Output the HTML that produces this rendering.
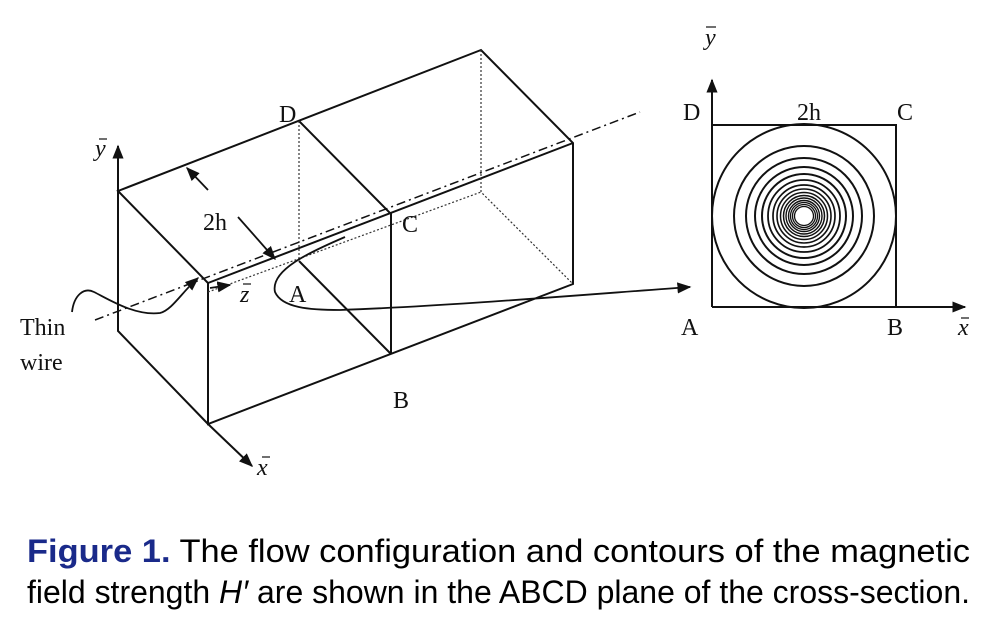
<!DOCTYPE html>
<html><head><meta charset="utf-8"><style>
html,body{margin:0;padding:0;background:#fff;width:1000px;height:630px;overflow:hidden}
svg{display:block}
.s{font-family:"Liberation Serif",serif;font-size:24px;fill:#111}
.c{font-family:"Liberation Sans",sans-serif;font-size:32px;fill:#000}
</style></head><body>
<svg width="1000" height="630" viewBox="0 0 1000 630" xmlns="http://www.w3.org/2000/svg">
<defs>
<marker id="ab" viewBox="0 0 10 10" refX="9" refY="5" markerWidth="14" markerHeight="14" markerUnits="userSpaceOnUse" orient="auto"><path d="M0,1L10,5L0,9z" fill="#111"/></marker>
</defs>
<g stroke="#111" stroke-width="2" fill="none">
<path d="M118,191 L481,50 L573,143 L573,284 L208,424 L208,283 L118,191 Z"/>
<path d="M208,283 L573,143"/>
<path d="M118,191 L118,331 L208,424"/>
<path d="M299,121 L391,214 L391,354"/>
<path d="M299,261 L391,354"/>
<path d="M118,331 L118,146" marker-end="url(#ab)"/>
<path d="M208,424 L252,466" marker-end="url(#ab)"/>
</g>
<g stroke="#333" stroke-width="1.2" fill="none" stroke-dasharray="2,2">
<path d="M481,50 L481,192 L573,284"/>
<path d="M208,292 L481,192"/>
<path d="M299,121 L299,261"/>
</g>
<path d="M95,320 L640,112" stroke="#111" stroke-width="1.5" stroke-dasharray="9,4,2,4" fill="none"/>
<g stroke="#111" stroke-width="1.8" fill="none">
<path d="M208,190 L187,168" marker-end="url(#ab)"/>
<path d="M238,217 L275,259" marker-end="url(#ab)"/>
<path d="M72,312 C74,295 84,287 94,292 C110,300 135,316 160,313 C172,310 182,292 198,278" marker-end="url(#ab)"/>
<path d="M210,288 L230,285" marker-end="url(#ab)"/>
<path d="M345,237 C310,252 270,270 275,292 C282,308 310,310 340,310 C450,306 580,295 690,287" marker-end="url(#ab)"/>
</g>
<text class="s" x="279" y="122">D</text>
<text class="s" x="203" y="230">2h</text>
<text class="s" x="402" y="232">C</text>
<text class="s" x="289" y="302">A</text>
<text class="s" x="393" y="408">B</text>
<text class="s" x="240" y="302" font-style="italic">z</text>
<text class="s" x="95" y="156" font-style="italic">y</text>
<text class="s" x="257" y="475" font-style="italic">x</text>
<text class="s" x="20" y="335">Thin</text>
<text class="s" x="20" y="370">wire</text>
<g stroke="#111" stroke-width="2" fill="none">
<path d="M712,307 L712,80" marker-end="url(#ab)"/>
<path d="M712,307 L965,307" marker-end="url(#ab)"/>
<path d="M712,125 L896,125 L896,307"/>
<circle cx="804" cy="216" r="92"/>
<circle cx="804" cy="216" r="70"/>
<circle cx="804" cy="216" r="58"/>
<circle cx="804" cy="216" r="49"/>
<circle cx="804" cy="216" r="42"/>
<circle cx="804" cy="216" r="36" stroke-width="1.8"/>
<circle cx="804" cy="216" r="31" stroke-width="1.7"/>
<circle cx="804" cy="216" r="27" stroke-width="1.6"/>
<circle cx="804" cy="216" r="23.5" stroke-width="1.5"/>
<circle cx="804" cy="216" r="20.5" stroke-width="1.5"/>
<circle cx="804" cy="216" r="18" stroke-width="1.4"/>
<circle cx="804" cy="216" r="15.5" stroke-width="1.4"/>
<circle cx="804" cy="216" r="13.5" stroke-width="1.3"/>
<circle cx="804" cy="216" r="11.5" stroke-width="1.3"/>
<circle cx="804" cy="216" r="9.5" stroke-width="1.3"/>
</g>
<text class="s" x="683" y="120">D</text>
<text class="s" x="797" y="120">2h</text>
<text class="s" x="897" y="120">C</text>
<text class="s" x="681" y="335">A</text>
<text class="s" x="887" y="335">B</text>
<text class="s" x="958" y="335" font-style="italic">x</text>
<text class="s" x="705" y="45" font-style="italic">y</text>
<g stroke="#111" stroke-width="1.2">
<path d="M99,139 L107,139"/><path d="M262,457 L270,457"/><path d="M706,27 L716,27"/><path d="M961,318 L969,318"/><path d="M243,284 L251,284"/>
</g>
<text class="c" x="27" y="562" textLength="943" lengthAdjust="spacingAndGlyphs"><tspan fill="#1a2a8a" font-weight="bold">Figure 1.</tspan> The flow configuration and contours of the magnetic</text>
<text class="c" x="27" y="603" textLength="943" lengthAdjust="spacingAndGlyphs">field strength <tspan font-style="italic">H′</tspan> are shown in the ABCD plane of the cross-section.</text>
</svg>
</body></html>
